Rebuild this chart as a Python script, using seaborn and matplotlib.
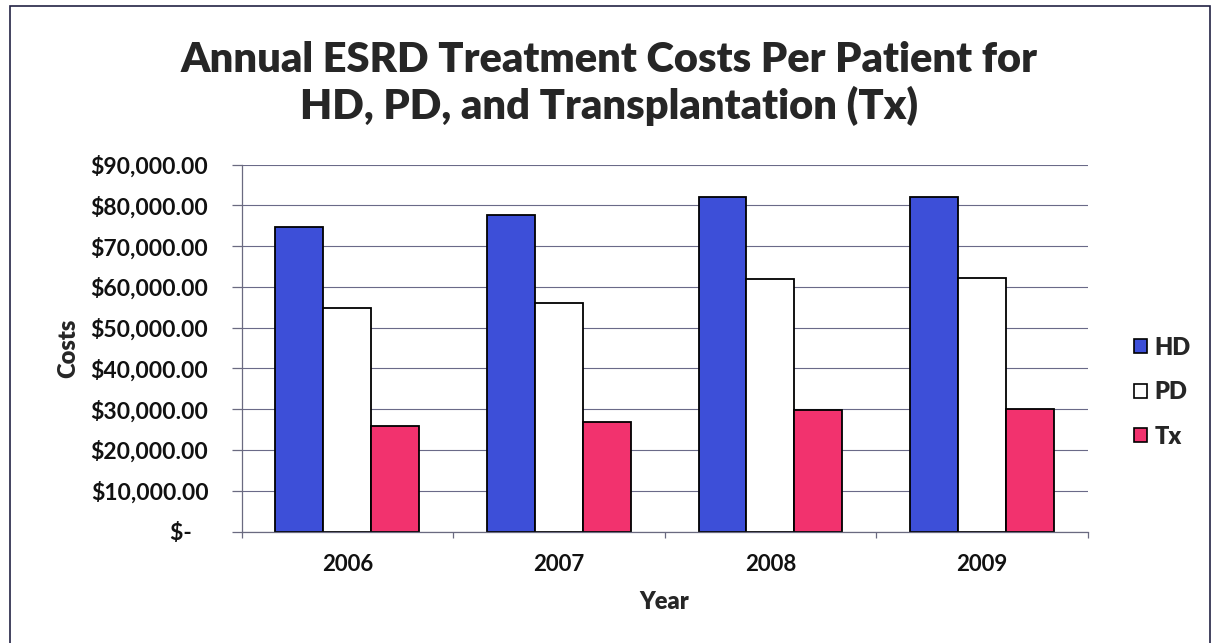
import numpy as np
import pandas as pd
import matplotlib
matplotlib.use('Agg')
import matplotlib.pyplot as plt
from matplotlib.patches import Rectangle
from matplotlib.ticker import FuncFormatter, FixedLocator
import seaborn as sns

# DATA
years = ['2006', '2007', '2008', '2009']
treatments = ['HD', 'PD', 'Tx']
hd_costs = [74800, 77700, 82000, 82200]
pd_costs = [54800, 56000, 62000, 62100]
tx_costs = [25800, 26800, 29900, 30000]
y_ticks = [0, 10000, 20000, 30000, 40000, 50000, 60000, 70000, 80000, 90000]

colors = {'HD': '#3d4fd8', 'PD': '#ffffff', 'Tx': '#f2326e'}

df = pd.DataFrame({
    'Year': years * 3,
    'Treatment': ['HD'] * 4 + ['PD'] * 4 + ['Tx'] * 4,
    'Cost': hd_costs + pd_costs + tx_costs,
})

sns.set_theme(style='white')
plt.rcParams['font.family'] = ['Lato', 'DejaVu Sans']

fig = plt.figure(figsize=(12.18, 6.43), dpi=100)
ax = fig.add_axes([0.1984, 0.1734, 0.6946, 0.5704])

sns.barplot(data=df, x='Year', y='Cost', hue='Treatment', order=years,
            hue_order=treatments, palette=colors, width=0.68, gap=0,
            edgecolor='black', linewidth=1.3, saturation=1, ax=ax)

ax.set_ylim(0, 90000)
ax.set_xlim(-0.5, 3.5)
ax.yaxis.set_major_locator(FixedLocator(y_ticks))


def money(v, pos):
    # Excel accounting format shows zero as "$-"
    if v == 0:
        return '$-   '
    return f'${v:,.2f}'


ax.yaxis.set_major_formatter(FuncFormatter(money))
ax.yaxis.grid(True, color='#6a6a88', linewidth=0.8)
ax.set_axisbelow(True)

# category separators on the x axis
ax.set_xticks([-0.5, 0.5, 1.5, 2.5, 3.5], minor=True)
ax.tick_params(axis='x', which='major', length=0, labelsize=16, pad=16, colors='#111111')
ax.tick_params(axis='x', which='minor', length=4.5, width=0.9, color='#6a6a80', direction='out')
ax.tick_params(axis='y', which='major', length=7, width=0.9, color='#6a6a80',
               direction='out', labelsize=16.5, pad=17, labelcolor='#111111')
ax.xaxis.set_tick_params(bottom=True, which='both')
ax.yaxis.set_tick_params(left=True)
for lab in ax.get_xticklabels() + ax.get_yticklabels():
    lab.set_fontweight('bold')

for s in ['top', 'right']:
    ax.spines[s].set_visible(False)
for s in ['left', 'bottom']:
    ax.spines[s].set_color('#6a6a80')
    ax.spines[s].set_linewidth(0.9)

ax.set_xlabel('Year', fontsize=17, fontweight='heavy', labelpad=12)
ax.set_ylabel('Costs', fontsize=17, fontweight='heavy', labelpad=8)

fig.text(0.5, 0.87, 'Annual ESRD Treatment Costs Per Patient for\nHD, PD, and Transplantation (Tx)',
         ha='center', va='center', fontsize=30, fontweight='heavy', linespacing=1.2)

leg = ax.legend(loc='center left', bbox_to_anchor=(1.03, 0.38), frameon=False,
                fontsize=17, handlelength=0.55, handleheight=0.55, handletextpad=0.3,
                labelspacing=0.95)
for t in leg.get_texts():
    t.set_fontweight('heavy')
for h in leg.legend_handles:
    h.set_edgecolor('black')
    h.set_linewidth(1.2)

# outer chart border
fig.patches.append(Rectangle((10 / 1218, -0.01), 1200 / 1218, 1 - 6 / 643 + 0.01,
                             transform=fig.transFigure, fill=False,
                             edgecolor='#222244', linewidth=1.2))

fig.savefig('out.png', dpi=100)
